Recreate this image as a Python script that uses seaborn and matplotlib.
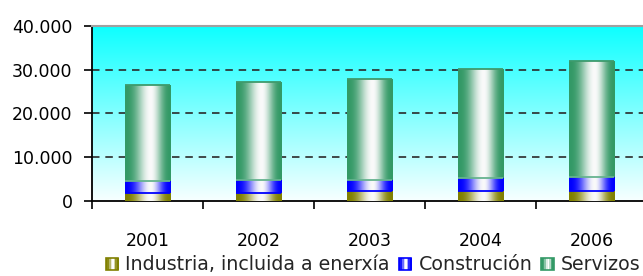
import numpy as np
import pandas as pd
import matplotlib
matplotlib.use("Agg")
import matplotlib.pyplot as plt
import seaborn as sns
from matplotlib.ticker import FuncFormatter, FixedLocator
from matplotlib.legend_handler import HandlerBase
from matplotlib.patches import Rectangle
from matplotlib.colors import to_rgb

# ---- data ----
years = ["2001", "2002", "2003", "2004", "2006"]
industria = [1900, 1900, 2350, 2350, 2300]
construcion = [2670, 2900, 2500, 2910, 3250]
servizos = [21880, 22400, 23050, 24840, 26350]
series_names = ["Industria, incluida a enerxía", "Construción", "Servizos"]
yticks = [0, 10000, 20000, 30000, 40000]

dark_cols = ["#808000", "#0000FF", "#339966"]
top_lines = ["#0000FF", "#66B38F", "#3E9A6C"]

sns.set_theme(style="white")
plt.rcParams["font.family"] = ["DejaVu Sans"]

fig = plt.figure(figsize=(6.43, 2.76), dpi=100)
W, H = 643, 276
ax = fig.add_axes([92 / W, 75 / H, 555 / W, 175 / H])

c1 = np.array(industria)
c2 = c1 + np.array(construcion)
c3 = c2 + np.array(servizos)
df = pd.DataFrame({"year": years, "ind": c1, "con": c2, "ser": c3})

# Draw cumulative bars (tallest first) with seaborn to get geometry
bar_w = 0.41
layers = []
for col in ["ser", "con", "ind"]:
    n0 = len(ax.patches)
    sns.barplot(data=df, x="year", y=col, ax=ax, width=bar_w, color="white",
                order=years, errorbar=None)
    layers.append(ax.patches[n0:])
layers = layers[::-1]  # ind, con, ser


def profile(n=200):
    t = np.linspace(0, 1, n)
    peak = 0.56
    u = np.where(t < peak, t / peak, (1 - t) / (1 - peak))
    light = np.sin(u * np.pi / 2) ** 2.6
    return light


prof = profile()

# background gradient (cyan top -> white bottom)
grad = np.linspace(0, 1, 256)[:, None]
top_c = np.array([0.05, 1.0, 1.0])
bot_c = np.array([0.97, 1.0, 1.0])
bg = (top_c[None, None, :] * (1 - grad[..., None]) + bot_c[None, None, :] * grad[..., None])
ax.imshow(bg, extent=(-0.5, 4.5, 0, 40000), aspect="auto", zorder=0,
          interpolation="bilinear", origin="upper")

# gradient-filled stacked segments
for si, patches in enumerate(layers):
    dc = np.array(to_rgb(dark_cols[si]))
    img = dc[None, None, :] * (1 - prof[None, :, None]) + np.ones(3)[None, None, :] * prof[None, :, None] * 0.98
    for bi, p in enumerate(patches):
        x0 = p.get_x()
        x1 = x0 + p.get_width()
        top = p.get_height()
        bottom = 0 if si == 0 else layers[si - 1][bi].get_height()
        ax.imshow(img, extent=(x0, x1, bottom, top), aspect="auto", zorder=3,
                  interpolation="bilinear")
        ax.plot([x0, x1], [top, top], color=top_lines[si], lw=1.3, zorder=4,
                solid_capstyle="butt")
        p.set_visible(False)

ax.set_xlim(-0.5, 4.5)
ax.set_ylim(0, 40000)

# grid
for yv in yticks[1:-1]:
    ax.axhline(yv, color="#2a2a2a", lw=1.2, linestyle=(0, (4.5, 3.5)), zorder=2)

# spines
ax.spines["left"].set_color("black")
ax.spines["left"].set_linewidth(1.3)
ax.spines["bottom"].set_color("black")
ax.spines["bottom"].set_linewidth(1.3)
ax.spines["top"].set_visible(True)
ax.spines["top"].set_color("#A0A0A0")
ax.spines["top"].set_linewidth(1.5)
ax.spines["right"].set_visible(True)
ax.spines["right"].set_color("#A0A0A0")

ax.set_xlabel("")
ax.set_ylabel("")
ax.yaxis.set_major_locator(FixedLocator(yticks))
ax.yaxis.set_major_formatter(FuncFormatter(lambda v, p: f"{int(v):,}".replace(",", ".")))
ax.tick_params(axis="y", which="major", left=True, length=6, width=1.2, color="black",
               labelsize=12.5, pad=8, labelcolor="black")
ax.set_xticks(range(len(years)))
ax.set_xticklabels(years)
ax.set_xticks(np.arange(-0.5, 5.0, 1.0), minor=True)
ax.tick_params(axis="x", which="major", bottom=False, length=0, labelsize=12.5,
               pad=22, labelcolor="black")
ax.tick_params(axis="x", which="minor", bottom=True, length=6, width=1.2, color="black")


class GradHandler(HandlerBase):
    def __init__(self, dark):
        super().__init__()
        self.dark = dark

    def create_artists(self, legend, orig_handle, xdescent, ydescent, width, height,
                       fontsize, trans):
        s = min(width, height) * 0.95
        x0 = xdescent + (width - s) / 2
        y0 = -ydescent + (height - s) / 2
        arts = []
        n = 8
        dc = np.array(to_rgb(self.dark))
        pr = profile(n)
        for i in range(n):
            c = dc * (1 - pr[i]) + np.ones(3) * pr[i]
            r = Rectangle((x0 + i * s / n, y0), s / n + 0.2, s, facecolor=c,
                          edgecolor="none", transform=trans)
            arts.append(r)
        border = Rectangle((x0, y0), s, s, facecolor="none", edgecolor=self.dark,
                           lw=1.2, transform=trans)
        arts.append(border)
        return arts


handles = [Rectangle((0, 0), 1, 1) for _ in series_names]
hmap = {h: GradHandler(dark_cols[i]) for i, h in enumerate(handles)}
fig.legend(handles, series_names, handler_map=hmap, loc="center",
           bbox_to_anchor=(373 / W, 1 - 265 / H), ncol=3, frameon=False,
           fontsize=13.7, handlelength=0.7, handleheight=0.7, handletextpad=0.35,
           columnspacing=0.45, borderaxespad=0, borderpad=0)

fig.savefig("out.png", dpi=100)
